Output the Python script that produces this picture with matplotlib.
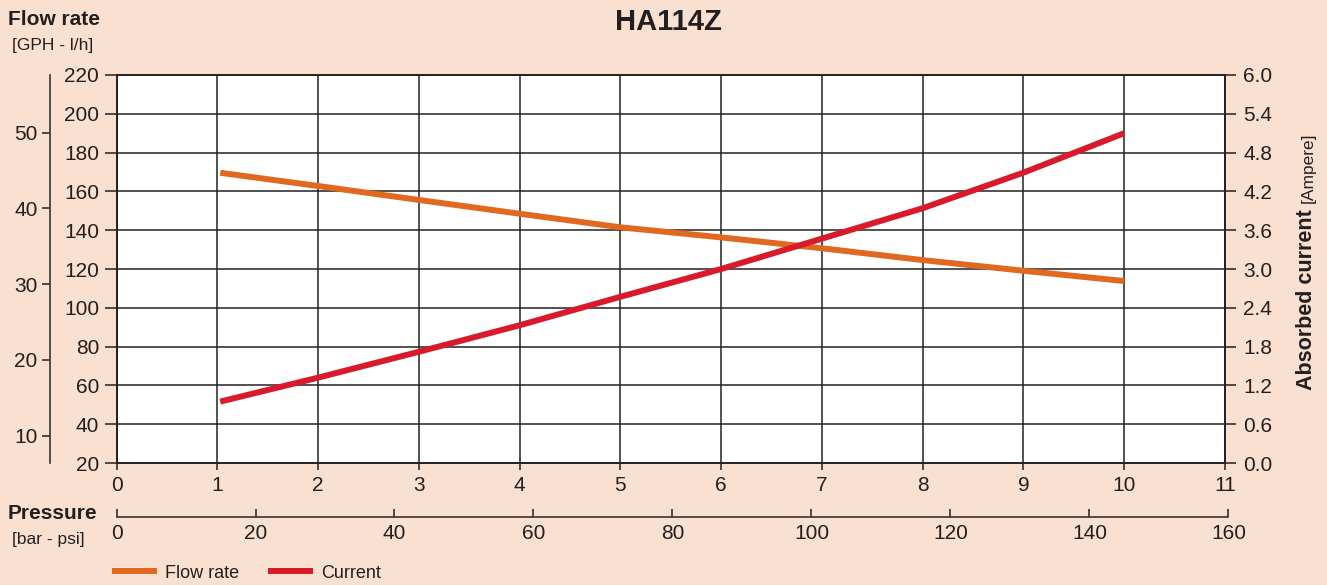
import matplotlib
matplotlib.use('Agg')

import matplotlib.pyplot as plt

# curve data
pressure = [1.03, 2, 3, 4, 5, 6, 7, 8, 9, 10]                       # bar
flow = [169.6, 162.8, 155.6, 148.5, 141.5, 136.3, 130.7, 124.6, 119.1, 113.8]  # l/h
current = [0.95, 1.32, 1.72, 2.13, 2.57, 3.00, 3.47, 3.94, 4.49, 5.10]  # A

bar_ticks = list(range(0, 12))
psi_ticks = list(range(0, 161, 20))
lh_ticks = list(range(20, 221, 20))
gph_ticks = [10, 20, 30, 40, 50]
amp_ticks = [0.0, 0.6, 1.2, 1.8, 2.4, 3.0, 3.6, 4.2, 4.8, 5.4, 6.0]

bg = '#fae0d0'
ink = '#231f20'
orange = '#e0691f'
red = '#d91a2a'

plt.rcParams['font.family'] = ['Liberation Sans', 'DejaVu Sans']
plt.rcParams['text.color'] = ink
plt.rcParams['axes.labelcolor'] = ink
plt.rcParams['xtick.color'] = ink
plt.rcParams['ytick.color'] = ink

fig = plt.figure(figsize=(13.27, 5.85), dpi=100, facecolor=bg)
left, bottom, width, height = 0.0878, 0.2085, 0.8353, 0.6633
ax = fig.add_axes([left, bottom, width, height])
ax.set_facecolor('white')

l1, = ax.plot(pressure, flow, color=orange, lw=4.3, solid_capstyle='butt', zorder=3, label='Flow rate')
ax.set_xlim(0, 11)
ax.set_ylim(20, 220)
ax.set_xticks(bar_ticks)
ax.set_yticks(lh_ticks)
ax.grid(True, color='#222222', lw=1.1)
ax.set_axisbelow(True)
ax.tick_params(axis='y', direction='out', length=8.5, width=1.1, pad=4, labelsize=15)
ax.tick_params(axis='x', direction='out', length=5, width=1.1, pad=4, labelsize=15)
for s in ax.spines.values():
    s.set_color('#222222')
    s.set_linewidth(1.2)

# current on the right
ax2 = ax.twinx()
l2, = ax2.plot(pressure, current, color=red, lw=4.3, solid_capstyle='butt', zorder=3, label='Current')
ax2.set_ylim(0, 6)
ax2.set_yticks(amp_ticks)
ax2.set_yticklabels(['%.1f' % v for v in amp_ticks])
ax2.tick_params(axis='y', direction='out', length=8, width=1.1, pad=5, labelsize=15)
for s in ax2.spines.values():
    s.set_color('#222222')
    s.set_linewidth(1.2)

# GPH scale on far left
gph = ax.secondary_yaxis(-0.06, functions=(lambda lh: (lh + 4.95) / 3.904,
                                           lambda g: g * 3.904 - 4.95))
gph.set_yticks(gph_ticks)
gph.tick_params(axis='y', direction='out', length=6, width=1.1, pad=3, labelsize=15)
gph.spines['left'].set_color('#333333')
gph.spines['left'].set_linewidth(1.2)

# psi scale under the bar scale (1 bar = 14.5 psi, runs to 160)
axp = fig.add_axes([left, 68 / 585, width * 160 / (11 * 14.5), 0.0001])
axp.set_facecolor('none')
axp.set_xlim(0, 160)
axp.set_xticks(psi_ticks)
axp.set_yticks([])
for k in ['top', 'left', 'right']:
    axp.spines[k].set_visible(False)
axp.spines['bottom'].set_color('#333333')
axp.spines['bottom'].set_linewidth(1.2)
axp.tick_params(axis='x', direction='in', length=6, width=1.1, pad=5, labelsize=15)

# titles and axis captions
fig.text(0.504, 0.963, 'HA114Z', ha='center', va='center', fontsize=21, fontweight='bold')
fig.text(0.006, 0.966, 'Flow rate', ha='left', va='center', fontsize=15, fontweight='bold')
fig.text(0.009, 0.922, '[GPH - l/h]', ha='left', va='center', fontsize=12.5)
fig.text(0.006, 0.122, 'Pressure', ha='left', va='center', fontsize=15, fontweight='bold')
fig.text(0.009, 0.077, '[bar - psi]', ha='left', va='center', fontsize=12.5)

t1 = fig.text(0.989, 0.333, 'Absorbed current', rotation=90, rotation_mode='anchor',
              ha='left', va='baseline', fontsize=15.5, fontweight='bold')
fig.canvas.draw()
bb = t1.get_window_extent(fig.canvas.get_renderer())
y_next = (bb.y1 + 6) / fig.bbox.height
fig.text(0.989, y_next, '[Ampere]', rotation=90, rotation_mode='anchor',
         ha='left', va='baseline', fontsize=12.5)

fig.legend(handles=[l1, l2], loc='center left', bbox_to_anchor=(0.0844, 0.0205),
           ncol=2, frameon=False, fontsize=13, handlelength=2.5, borderpad=0,
           borderaxespad=0, handletextpad=0.45, columnspacing=1.6)

fig.savefig('out.png', dpi=100, facecolor=bg)
